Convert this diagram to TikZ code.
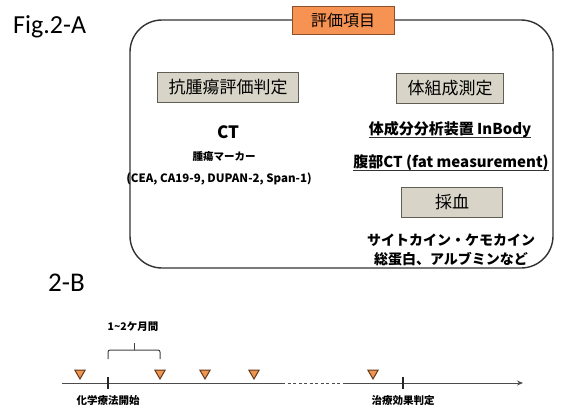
\documentclass[tikz,border=0pt]{standalone}
\usepackage{fontspec}
\setmainfont{Noto Sans CJK JP}
\newfontfamily\figfont{Carlito}
\usetikzlibrary{arrows.meta, positioning, shapes.geometric}

\definecolor{headorange}{RGB}{246,146,82}
\definecolor{headborder}{RGB}{140,80,45}
\definecolor{itemgray}{RGB}{216,213,200}
\definecolor{itemborder}{RGB}{95,95,85}
\definecolor{markorange}{RGB}{238,150,80}
\definecolor{markborder}{RGB}{100,55,25}
\definecolor{framegray}{RGB}{50,50,50}

\begin{document}
\begin{tikzpicture}[x=1pt, y=-1pt,
  frame/.style={draw=framegray, line width=1.4pt, rounded corners=32pt},
  header/.style={rectangle, draw=headborder, line width=0.8pt, fill=headorange, minimum width=102pt, minimum height=28pt, inner sep=0pt, font=\fontsize{16}{16}\selectfont},
  item/.style={rectangle, draw=itemborder, line width=1pt, fill=itemgray, minimum height=30pt, inner xsep=11pt, inner ysep=0pt, font=\fontsize{17}{17}\selectfont},
  big/.style={inner sep=0pt, font=\bfseries\fontsize{15}{15}\selectfont},
  mid/.style={inner sep=0pt, font=\bfseries\fontsize{14}{14}\selectfont},
  small/.style={inner sep=0pt, font=\bfseries\fontsize{10.5}{10.5}\selectfont},
  underline/.style={draw=black!80, line width=1.1pt},
  dosemark/.style={regular polygon, regular polygon sides=3, shape border rotate=180, draw=markborder, line width=1pt, fill=markorange, minimum size=12pt, inner sep=0pt},
  tickbar/.style={rectangle, fill=black!85, minimum width=2.2pt, minimum height=12pt, inner sep=0pt},
  axis/.style={draw=black!70, line width=1pt},
  arrow/.style={axis, -{Stealth[length=6pt, width=5pt]}}
]
\useasboundingbox (0,0) rectangle (562,408);

% Fig.2-A
\node (titleA) [anchor=base west, inner sep=0pt, font=\figfont\fontsize{26}{26}\selectfont] at (13,33) {Fig.2-A};
\draw [frame] (130,20) rectangle (553,268);
\node (head) [header] at (343,20) {評価項目};

\node (tumor) [item] at (228,87) {抗腫瘍評価判定};
\node (ct) [big, font=\bfseries\fontsize{17}{17}\selectfont] at (228,132) {CT};
\node (marker) [small] at (224,157) {腫瘍マーカー};
\node (markerlist) [small, font=\bfseries\fontsize{11.5}{11.5}\selectfont] at (219,179) {(CEA, CA19-9, DUPAN-2, Span-1)};

\node (body) [item] at (450,88) {体組成測定};
\node (inbody) [big] at (450,130) {体成分分析装置 InBody};
\node (fatct) [big] at (451,163) {腹部CT (fat measurement)};
\draw [underline] ([yshift=-2.5pt]inbody.base west) -- ([yshift=-2.5pt]inbody.base east);
\draw [underline] ([yshift=-2.5pt]fatct.base west) -- ([yshift=-2.5pt]fatct.base east);
\node (blood) [item, minimum width=101pt] at (452,202) {採血};
\node (cyto) [mid] at (451,240) {サイトカイン・ケモカイン};
\node (protein) [mid] at (451,259) {総蛋白、アルブミンなど};

% 2-B
\node (titleB) [anchor=base west, inner sep=0pt, font=\figfont\fontsize{27}{27}\selectfont] at (48,291) {2-B};

\coordinate (tstart) at (62,383);
\coordinate (gapA) at (282,383);
\coordinate (gapB) at (343,383);
\coordinate (tend) at (523,383);
\draw [axis] (tstart) -- (gapA);
\draw [axis, dash pattern=on 3pt off 2.5pt] (gapA) -- (gapB);
\draw [arrow] (gapB) -- (tend);

\node (m1) [dosemark] at (80,373) {};
\node (m2) [dosemark] at (160,373) {};
\node (m3) [dosemark] at (205,373) {};
\node (m4) [dosemark] at (254,373) {};
\node (m5) [dosemark] at (373,373) {};

\node (start) [tickbar] at (108,383) {};
\node (judge) [tickbar] at (403,383) {};
\node (startlabel) [small, below=6pt of start] {化学療法開始};
\node (judgelabel) [small, below=6pt of judge] {治療効果判定};

\draw [draw=black!75, line width=1pt, rounded corners=2pt] (108,359) -- (108,350) -- (160,350) -- (160,359);
\draw [draw=black!75, line width=1pt] (134,350) -- (134,343);
\node (period) [small] at (133,327) {1\textasciitilde2ケ月間};

\end{tikzpicture}
\end{document}
